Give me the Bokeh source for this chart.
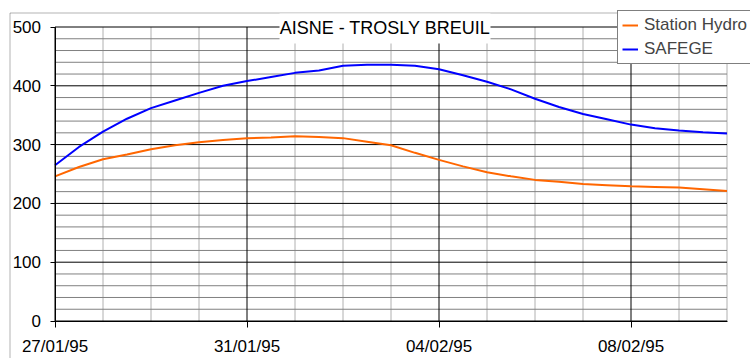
from datetime import datetime, timedelta
from bokeh.plotting import figure
from bokeh.models import (FixedTicker, DatetimeTickFormatter, Label, Legend,
                          LegendItem, BoxAnnotation, Range1d)
from bokeh.embed import file_html
from bokeh.resources import INLINE

# ---------------- data ----------------
title_text = "AISNE - TROSLY BREUIL"
start_date = "27/01/95"
end_date = "10/02/95"
sample_hours = 12  # one value every half day
x_tick_labels = ["27/01/95", "31/01/95", "04/02/95", "08/02/95"]
series_names = ["Station Hydro", "SAFEGE"]

station_hydro = [246, 262, 275, 283, 292, 299, 304, 308, 311, 312, 314, 313,
                 311, 305, 299, 286, 274, 263, 253, 246, 240, 237, 233, 231,
                 229, 228, 227, 224, 221]
safege = [265, 296, 322, 344, 362, 375, 388, 400, 408, 415, 422, 426, 434,
          436, 436, 434, 428, 418, 407, 394, 378, 364, 352, 343, 334, 328,
          324, 321, 319]

y_max = 500
y_ticks = [0, 100, 200, 300, 400, 500]
y_minor_ticks = list(range(0, 501, 20))

# ---------------- layout (pixels) ----------------
W, H = 750, 358
PX_X0, PX_PER_DAY = 54.5, 48.0       # x pixel of first day, pixels per day
PX_Y0, PX_PER_UNIT = 320.5, 0.588    # y pixel of value 0, pixels per unit

FMT = "%d/%m/%y"
EPOCH = datetime(1970, 1, 1)
DAY_MS = 86400000.0
FONT = "Liberation Sans"


def ms(d):
    return (d - EPOCH).total_seconds() * 1000.0


t0 = datetime.strptime(start_date, FMT)
t1 = datetime.strptime(end_date, FMT)


def px2x(px):
    return ms(t0) + (px - PX_X0) / PX_PER_DAY * DAY_MS


def px2y(py):
    return (PX_Y0 - py) / PX_PER_UNIT


times = [t0 + timedelta(hours=sample_hours * i) for i in range(len(safege))]
n_days = (t1 - t0).days
major_ticks = [ms(datetime.strptime(s, FMT)) for s in x_tick_labels]
day_ticks = [ms(t0 + timedelta(days=i)) for i in range(n_days + 1)]

p = figure(width=W, height=H, output_backend="svg", toolbar_location=None,
           x_axis_type="datetime",
           x_range=Range1d(px2x(0), px2x(W)), y_range=Range1d(px2y(H), px2y(0)),
           min_border=0, min_border_left=0, min_border_right=0,
           min_border_top=0, min_border_bottom=0)
p.outline_line_color = None
p.background_fill_color = "white"
p.border_fill_color = "white"
p.xgrid.visible = False
p.ygrid.visible = False

# ---- grid of the plot area (from the tick lists) ----
minor_v = [t for t in day_ticks if t not in major_ticks]
p.segment(x0=minor_v, x1=minor_v, y0=[0] * len(minor_v), y1=[y_max] * len(minor_v),
          line_color="#b0b0b0", line_width=1)
minor_h = [v for v in y_minor_ticks if v not in y_ticks]
p.segment(x0=[ms(t0)] * len(minor_h), x1=[ms(t1)] * len(minor_h), y0=minor_h,
          y1=minor_h, line_color="#808080", line_width=1)
p.segment(x0=major_ticks, x1=major_ticks, y0=[0] * len(major_ticks),
          y1=[y_max] * len(major_ticks), line_color="black", line_width=1)
p.segment(x0=[ms(t0)] * len(y_ticks), x1=[ms(t1)] * len(y_ticks), y0=y_ticks,
          y1=y_ticks, line_color="black", line_width=1)

# ---- data ----
r1 = p.line(times, station_hydro, line_color="#FF6600", line_width=2)
r2 = p.line(times, safege, line_color="#0000FF", line_width=2)

# ---- axes pinned inside the canvas ----
p.xaxis.ticker = FixedTicker(ticks=major_ticks, minor_ticks=[])
p.xaxis.formatter = DatetimeTickFormatter(
    days=FMT, months=FMT, years=FMT, hours=FMT, hourmin=FMT, minutes=FMT,
    minsec=FMT, seconds=FMT, milliseconds=FMT, microseconds=FMT)
p.yaxis.ticker = FixedTicker(ticks=y_ticks, minor_ticks=[])
p.xaxis.fixed_location = 0
p.yaxis.fixed_location = ms(t0)
p.xaxis.bounds = (ms(t0), ms(t1))
p.yaxis.bounds = (0, y_max)
for ax in (p.xaxis[0], p.yaxis[0]):
    ax.axis_line_color = "black"
    ax.major_tick_line_color = "black"
    ax.major_tick_out = 6
    ax.major_tick_in = 0
    ax.minor_tick_out = 0
    ax.minor_tick_in = 0
    ax.major_label_text_font = FONT
    ax.major_label_text_font_size = "17px"
    ax.major_label_text_color = "black"
p.xaxis.major_label_standoff = 10
p.yaxis.major_label_standoff = 9
p.yaxis.major_tick_out = 5

# ---- outer chart border ----
p.add_layout(BoxAnnotation(left=px2x(9.5), right=px2x(W + 20),
                           top=px2y(12.5), bottom=px2y(H + 20),
                           fill_alpha=0, line_color="black", line_width=1))

# ---- title sitting on the top edge of the plot area ----
p.add_layout(BoxAnnotation(left=px2x(279), right=px2x(490), top=px2y(13),
                           bottom=px2y(43), fill_color="white", fill_alpha=1,
                           line_alpha=0))
p.add_layout(Label(x=px2x(384.5), y=px2y(27), text=title_text,
                   text_align="center", text_baseline="middle",
                   text_font=FONT, text_font_size="18px", text_color="black"))

# ---- legend ----
legend = Legend(items=[LegendItem(label=series_names[0], renderers=[r1]),
                       LegendItem(label=series_names[1], renderers=[r2])],
                location=(617, H - 64))
legend.border_line_color = "black"
legend.border_line_width = 1
legend.background_fill_color = "white"
legend.background_fill_alpha = 1
legend.label_text_font = FONT
legend.label_text_font_size = "17px"
legend.glyph_width = 16
legend.glyph_height = 20
legend.label_height = 20
legend.spacing = 4
legend.padding = 4
legend.margin = 0
legend.label_standoff = 6
p.add_layout(legend)

open("out.html", "w").write(file_html(p, INLINE))
